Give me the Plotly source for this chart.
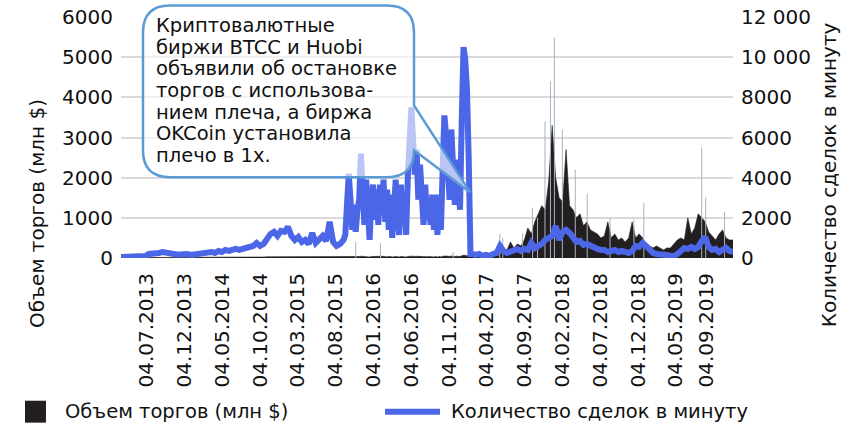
import plotly.graph_objects as go
import pandas as pd

# ---- data ----
# period A: 14-day samples from 2013-03-23 (quiet period)
trades_a = [
    50, 50, 50, 50, 50, 100, 100, 100, 200, 200,
    250, 250, 300, 250, 200, 200, 175, 175, 200, 200,
    150, 175, 200, 225, 250, 300, 300, 250, 350, 300,
    400, 350, 400, 450, 400, 450, 500, 550, 600, 750,
    600, 700, 1000, 1200, 1300, 1100, 1350, 1300, 1550, 1100,
    900, 1050, 800, 900, 700, 1250, 750, 950, 1100, 850,
    1800, 800, 600, 700, 900,
]
volume_a = [
    10, 10, 10, 10, 10, 10, 10, 10, 12, 12,
    12, 12, 15, 12, 12, 12, 10, 10, 12, 12,
    10, 12, 12, 12, 15, 15, 15, 15, 15, 15,
    18, 18, 18, 20, 18, 20, 20, 22, 22, 25,
    22, 25, 30, 30, 30, 28, 30, 30, 32, 28,
    25, 28, 25, 25, 22, 28, 22, 25, 28, 25,
    35, 25, 22, 25, 28,
]
# period B: weekly samples from 2015-09-12 (volatile period)
trades_b = [
    1150, 2900, 4200, 2900, 1400, 2650, 1300, 2400, 2900, 5200,
    3400, 1650, 3900, 2150, 900, 2900, 3650, 1900, 3400, 1650,
    3650, 2150, 3900, 1800, 3400, 1400, 3150, 1000, 2900, 3900,
    2150, 1150, 3650, 1650, 2900, 1150, 4150, 5400, 7500, 5900,
    4150, 5400, 2900, 4650, 2650, 1650, 3650, 1900, 2900, 1650,
    3150, 1400, 3150, 1150, 2900, 1400, 4400, 7100, 6100, 4650,
    2900, 6400, 3650, 2650, 4900, 3150, 2400, 6900, 10500, 9900,
    8400, 4900, 200,
]
volume_b = [
    30, 35, 40, 35, 30, 35, 30, 35, 38, 45,
    40, 30, 40, 35, 25, 38, 40, 30, 38, 30,
    40, 35, 42, 30, 38, 28, 36, 25, 35, 40,
    32, 25, 38, 30, 35, 25, 40, 45, 50, 45,
    40, 45, 35, 42, 35, 30, 40, 32, 36, 30,
    38, 28, 38, 25, 36, 28, 42, 55, 50, 45,
    38, 52, 40, 36, 45, 38, 35, 55, 70, 65,
    60, 45, 40,
]
# period C: 14-day samples from 2017-02-04
trades_c = [
    200, 150, 200, 100, 150, 100, 200, 250, 600,
    350, 250, 300, 400, 450, 350, 450, 400, 750, 500,
    600, 700, 900, 1000, 1100, 1600, 900, 1300, 1400, 1250,
    1000, 800, 850, 650, 700, 600, 550, 450, 400, 400,
    300, 350, 400, 300, 350, 300, 250, 350, 600, 550,
    750, 600, 400, 250, 200, 200, 150, 150, 100, 100,
    200, 400, 500, 450, 550, 450, 550, 850, 1050, 550,
    400, 450, 300, 400, 500, 350, 300,
]
volume_c = [
    40, 45, 40, 45, 45, 50, 100, 150,
    120, 150, 200, 400, 250, 350, 300, 450, 750, 600,
    900, 1100, 1300, 1200, 1900, 3300, 2000, 1500, 1400, 2700,
    1300, 1200, 1000, 1100, 800, 900, 700, 650, 600, 500,
    550, 900, 500, 600, 450, 500, 400, 500, 900, 500,
    600, 500, 350, 300, 250, 300, 250, 200, 250, 250,
    350, 450, 500, 450, 1000, 600, 750, 1100, 1000, 900,
    650, 550, 450, 600, 700, 500, 450, 450,
]

dates = (
    list(pd.date_range("2013-03-23", periods=len(trades_a), freq="14D"))
    + list(pd.date_range("2015-09-12", periods=len(trades_b), freq="7D"))
    + list(pd.date_range("2017-02-04", periods=len(trades_c), freq="14D"))
)
trades = trades_a + trades_b + trades_c
volume = volume_a + volume_b + volume_c

# thin single-day volume spikes (млн $)
spike_dates = [
    "2015-10-24", "2016-02-01", "2016-11-19", "2017-05-26", "2017-06-07",
    "2017-08-26", "2017-10-05", "2017-10-25", "2017-11-24", "2017-12-16",
    "2018-01-01", "2018-02-02", "2018-03-26", "2018-05-13", "2018-08-13",
    "2018-11-17", "2018-12-27", "2019-08-17", "2019-09-02", "2019-11-17",
]
spike_values = [
    400, 370, 150, 600, 500,
    620, 1250, 1000, 3400, 4400,
    5480, 3200, 2200, 1600, 1000,
    950, 1370, 2750, 1500, 1150,
]

tick_dates = [
    "2013-07-04", "2013-12-04", "2014-05-04", "2014-10-04", "2015-03-04",
    "2015-08-04", "2016-01-04", "2016-06-04", "2016-11-04", "2017-04-04",
    "2017-09-04", "2018-02-04", "2018-07-04", "2018-12-04", "2019-05-04",
    "2019-09-04",
]
tick_labels = [
    "04.07.2013", "04.12.2013", "04.05.2014", "04.10.2014", "04.03.2015",
    "04.08.2015", "04.01.2016", "04.06.2016", "04.11.2016", "04.04.2017",
    "04.09.2017", "04.02.2018", "04.07.2018", "04.12.2018", "04.05.2019",
    "04.09.2019",
]

left_ticks = [0, 1000, 2000, 3000, 4000, 5000, 6000]
left_labels = ["0", "1000", "2000", "3000", "4000", "5000", "6000"]
right_ticks = [0, 2000, 4000, 6000, 8000, 10000, 12000]
right_labels = ["0", "2000", "4000", "6000", "8000", "10 000", "12 000"]

name_vol = "Объем торгов (млн $)"
name_trd = "Количество сделок в минуту"
callout_lines = [
    "Криптовалютные",
    "биржи BTCC и Huobi",
    "объявили об остановке",
    "торгов с использова-",
    "нием плеча, а биржа",
    "OKCoin установила",
    "плечо в 1х.",
]

# ---- styles ----
FONT = "DejaVu Sans"
BLACK = "#231f20"
BLUE = "#4b67e8"
GRID = "#d9d9d9"
CALLOUT = "#5b9bd5"
TXT = "#111111"

# plot-area geometry in pixels (for paper-referenced decorations)
L, R, T, B = 121, 733, 16.5, 258
W, H = R - L, B - T


def px(x):
    return (x - L) / W


def py(y):
    return (B - y) / H


fig = go.Figure()

fig.add_trace(go.Scatter(
    x=dates, y=volume, name=name_vol, mode="lines",
    line=dict(color=BLACK, width=0.6), fill="tozeroy", fillcolor=BLACK,
    showlegend=False,
))

sx, sy = [], []
for d, v in zip(spike_dates, spike_values):
    sx += [d, d, None]
    sy += [0, v, None]
fig.add_trace(go.Scatter(
    x=sx, y=sy, mode="lines", line=dict(color="#a9b3c2", width=1),
    showlegend=False, hoverinfo="skip",
))

fig.add_trace(go.Scatter(
    x=dates, y=trades, name=name_trd, mode="lines", yaxis="y2",
    line=dict(color=BLUE, width=6), showlegend=False,
))

fig.update_layout(
    width=857, height=430,
    margin=dict(l=L, r=857 - R, t=T, b=430 - B),
    paper_bgcolor="white", plot_bgcolor="white",
    font=dict(family=FONT, size=20, color=TXT),
    showlegend=False,
    xaxis=dict(
        type="date", range=[dates[0], dates[-1]], automargin=False,
        tickvals=tick_dates, ticktext=tick_labels, tickangle=-90,
        showgrid=False, zeroline=False, showline=False, ticks="",
        ticklabelstandoff=10, tickfont=dict(size=20),
    ),
    yaxis=dict(
        range=[0, 6000], tickvals=left_ticks, ticktext=left_labels,
        automargin=False,
        showgrid=True, gridcolor=GRID, gridwidth=1.5, zeroline=False,
        showline=False, ticks="", ticklabelstandoff=7,
        tickfont=dict(size=20),
    ),
    yaxis2=dict(
        range=[0, 12000], tickvals=right_ticks, ticktext=right_labels,
        automargin=False,
        overlaying="y", side="right", showgrid=False, zeroline=False,
        showline=False, ticks="", ticklabelstandoff=7,
        tickfont=dict(size=20),
    ),
)

# ---- callout bubble ----
x0, x1, y0, y1, r = 143, 414, 5, 177, 27
tail_a, tail_b, tip = 105, 150, (470, 192)
pts = [
    ("M", (x0 + r, y0)), ("L", (x1 - r, y0)), ("Q", (x1, y0), (x1, y0 + r)),
    ("L", (x1, tail_a)), ("L", tip), ("L", (x1, tail_b)),
    ("Q", (x1, y1), (x1 - r, y1)), ("L", (x0 + r, y1)),
    ("Q", (x0, y1), (x0, y1 - r)), ("L", (x0, y0 + r)),
    ("Q", (x0, y0), (x0 + r, y0)),
]
path = ""
for cmd, *ps in pts:
    path += cmd + " ".join(f"{px(a):.5f},{py(b):.5f}" for a, b in ps) + " "
path += "Z"
fig.add_shape(type="path", path=path, xref="paper", yref="paper",
              line=dict(color=CALLOUT, width=2.5),
              fillcolor="rgba(255,255,255,0.62)", layer="above")

for k, txt in enumerate(callout_lines):
    fig.add_annotation(
        text=txt, xref="paper", yref="paper", x=px(154), y=py(25 + 21.7 * k),
        xanchor="left", yanchor="middle", showarrow=False,
        font=dict(family=FONT, size=19.5, color=TXT),
    )

# ---- axis titles ----
fig.add_annotation(text=name_vol, xref="paper", yref="paper",
                   x=px(37), y=py(213), textangle=-90, showarrow=False,
                   xanchor="center", yanchor="middle",
                   font=dict(family=FONT, size=20, color=TXT))
fig.add_annotation(text=name_trd, xref="paper", yref="paper",
                   x=px(829), y=py(175), textangle=-90, showarrow=False,
                   xanchor="center", yanchor="middle",
                   font=dict(family=FONT, size=20, color=TXT))

# ---- legend (drawn) ----
ly = 412
fig.add_shape(type="rect", xref="paper", yref="paper",
              x0=px(25), x1=px(46), y0=py(ly - 11), y1=py(ly + 11),
              fillcolor=BLACK, line=dict(width=0))
fig.add_annotation(text=name_vol, xref="paper", yref="paper",
                   x=px(63), y=py(ly), xanchor="left", yanchor="middle",
                   showarrow=False, font=dict(family=FONT, size=19.5, color=TXT))
fig.add_shape(type="line", xref="paper", yref="paper",
              x0=px(385), x1=px(440), y0=py(ly), y1=py(ly),
              line=dict(color=BLUE, width=6))
fig.add_annotation(text=name_trd, xref="paper", yref="paper",
                   x=px(449), y=py(ly), xanchor="left", yanchor="middle",
                   showarrow=False, font=dict(family=FONT, size=19.5, color=TXT))

fig.write_html(
    "out.html",
    config={"displayModeBar": False},
    post_script="document.body.style.margin='0';document.body.style.padding='0';",
)
